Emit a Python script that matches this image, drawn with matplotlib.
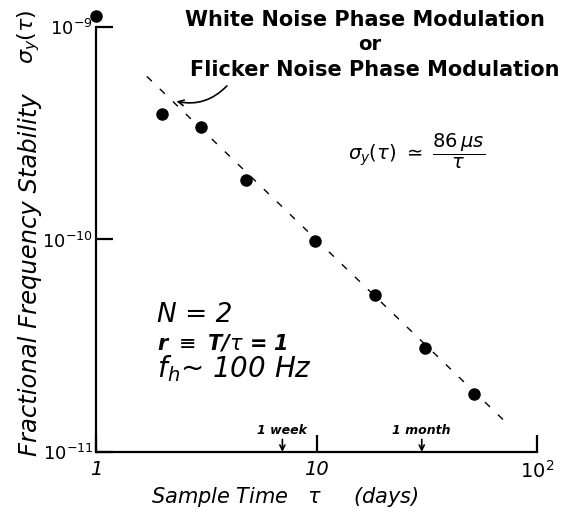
import matplotlib
matplotlib.use("Agg")
import matplotlib.pyplot as plt
import numpy as np

# measured points (tau in days, sigma_y)
tau_days = [2, 3, 4.8, 9.8, 18.5, 31, 52]
sigma_y = [3.9e-10, 3.4e-10, 1.9e-10, 9.8e-11, 5.5e-11, 3.1e-11, 1.87e-11]
# stray point at the top left corner
top_tau = [1.0]
top_sigma = [1.13e-9]

# fitted line sigma = 86 us / tau
fit_tau = np.array([1.7, 72.0])
fit_coef = 86e-6 / 86400.0

xticks = [1, 10, 100]
xticklabels = ['1', '10', r'$10^2$']
yticks = [1e-11, 1e-10, 1e-9]
yticklabels = [r'$10^{-11}$', r'$10^{-10}$', r'$10^{-9}$']

markers_tau = [7, 30]
markers_lbl = ['1 week', '1 month']

fig = plt.figure(figsize=(5.75, 5.2), dpi=100)
ax = fig.add_axes([0.167, 0.131, 0.767, 0.817])
ax.set_xscale('log')
ax.set_yscale('log')
ax.set_xlim(1, 100)
ax.set_ylim(1e-11, 1e-9)

for s in ['top', 'right']:
    ax.spines[s].set_visible(False)
for s in ['left', 'bottom']:
    ax.spines[s].set_linewidth(1.6)

ax.minorticks_off()
ax.set_xticks(xticks)
ax.set_xticklabels(xticklabels, fontsize=14, style='italic')
ax.set_yticks(yticks)
ax.set_yticklabels(yticklabels, fontsize=13)
ax.tick_params(axis='both', direction='in', length=12, width=1.6)
ax.tick_params(axis='y', pad=2)
ax.tick_params(axis='x', pad=6)

ax.plot(fit_tau, fit_coef / fit_tau, color='black', lw=1.0, linestyle=(0, (5, 8)))
ax.plot(tau_days, sigma_y, 'o', color='black', ms=8)
ax.plot(top_tau, top_sigma, 'o', color='black', ms=8, clip_on=False)

for t, lbl in zip(markers_tau, markers_lbl):
    ax.annotate(lbl, xy=(t, 1e-11), xytext=(t, 1.18e-11), ha='center', va='bottom',
                fontsize=9, fontweight='bold', style='italic',
                arrowprops=dict(arrowstyle='->', color='black', lw=1.2,
                                shrinkA=0, shrinkB=0))

fig.text(0.635, 0.962, 'White Noise Phase Modulation', ha='center', va='center',
         fontsize=15, fontweight='bold')
fig.text(0.643, 0.915, 'or', ha='center', va='center', fontsize=14, fontweight='bold')
fig.text(0.652, 0.865, 'Flicker Noise Phase Modulation', ha='center', va='center',
         fontsize=15, fontweight='bold')
ax.annotate('', xy=(2.25, 4.5e-10), xytext=(4.0, 5.4e-10),
            arrowprops=dict(arrowstyle='->', color='black', lw=1.2,
                            connectionstyle='arc3,rad=-0.3'))

fig.text(0.724, 0.708, r'$\sigma_y(\tau)\ \simeq\ \dfrac{86\,\mu s}{\tau}$', ha='center',
         va='center', fontsize=14)

ax.text(0.138, 0.306, 'N = 2', transform=ax.transAxes, fontsize=19, style='italic')
ax.text(0.138, 0.24, r'r $\equiv$ T/$\tau$ = 1', transform=ax.transAxes, fontsize=15,
        style='italic', fontweight='bold')
ax.text(0.138, 0.176, r'f$_h$~ 100 Hz', transform=ax.transAxes, fontsize=20,
        style='italic')

fig.text(0.496, 0.045, r'Sample Time   $\tau$     (days)', ha='center', va='center',
         fontsize=15, style='italic')
fig.text(0.052, 0.471, 'Fractional Frequency Stability', rotation=90, ha='center',
         va='center', fontsize=17.5, style='italic')
fig.text(0.05, 0.93, r'$\sigma_y(\tau)$', rotation=90, ha='center', va='center',
         fontsize=16)

fig.savefig('out.png', dpi=100)
